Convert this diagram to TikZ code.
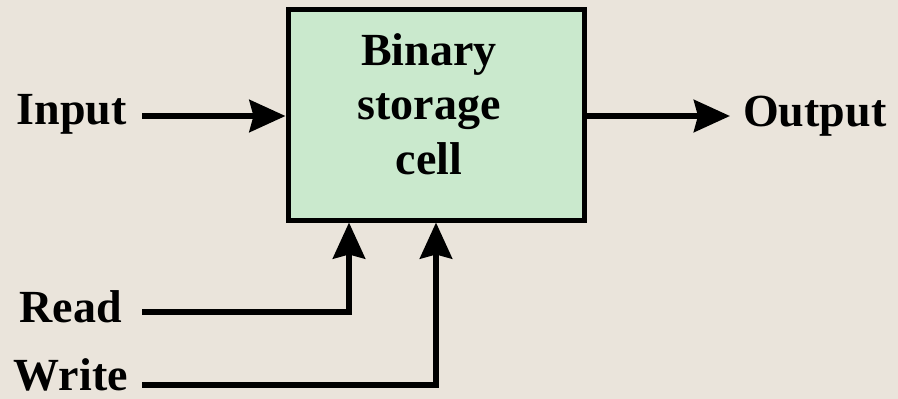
\documentclass[tikz,border=0pt]{standalone}
\usepackage{fontspec}
\setmainfont{Liberation Serif}
\usepackage{tikz}
\usetikzlibrary{positioning,arrows.meta,calc}
\definecolor{paper}{RGB}{234,228,219}
\definecolor{cellfill}{RGB}{202,233,205}
\tikzset{
  cell box/.style={
    rectangle,
    draw=black,
    fill=cellfill,
    line width=5pt,
    minimum width=296pt,
    minimum height=211pt
  },
  sig label/.style={
    inner sep=0pt,
    font=\fontsize{46}{54.5}\selectfont\bfseries
  },
  flow/.style={
    -{Stealth[length=36pt,width=32pt,inset=4pt]},
    line width=6pt
  }
}

\begin{document}
\begin{tikzpicture}[x=1pt,y=-1pt]
  % Background
  \fill[paper] (0,0) rectangle (898,399);
  \useasboundingbox (0,0) rectangle (898,399);

  % Storage cell box
  \node[cell box] (cell) at (436,114.5) {};
  \node[sig label, align=center] (celltext) at (429,104) {Binary\\storage\\cell};

  % Labels
  \node[sig label, anchor=base east] (inp) at (127,124) {Input};
  \node[sig label, anchor=base west] (outp) at (743,126) {Output};
  \node[sig label, anchor=base east] (rd) at (122,322) {Read};
  \node[sig label, anchor=base east] (wr) at (128,390) {Write};

  % Line ends
  \coordinate (in0) at (142,116);
  \coordinate (out0) at (730,116);
  \coordinate (rd0) at (142,312);
  \coordinate (wr0) at (142,385);

  % Data in and out
  \draw[flow] (in0) -- (in0 -| cell.west);
  \draw[flow] (out0 -| cell.east) -- (out0);

  % Control lines
  \draw[flow] (rd0) -| ([xshift=-87pt]cell.south);
  \draw[flow] (wr0) -| (cell.south);
\end{tikzpicture}
\end{document}
